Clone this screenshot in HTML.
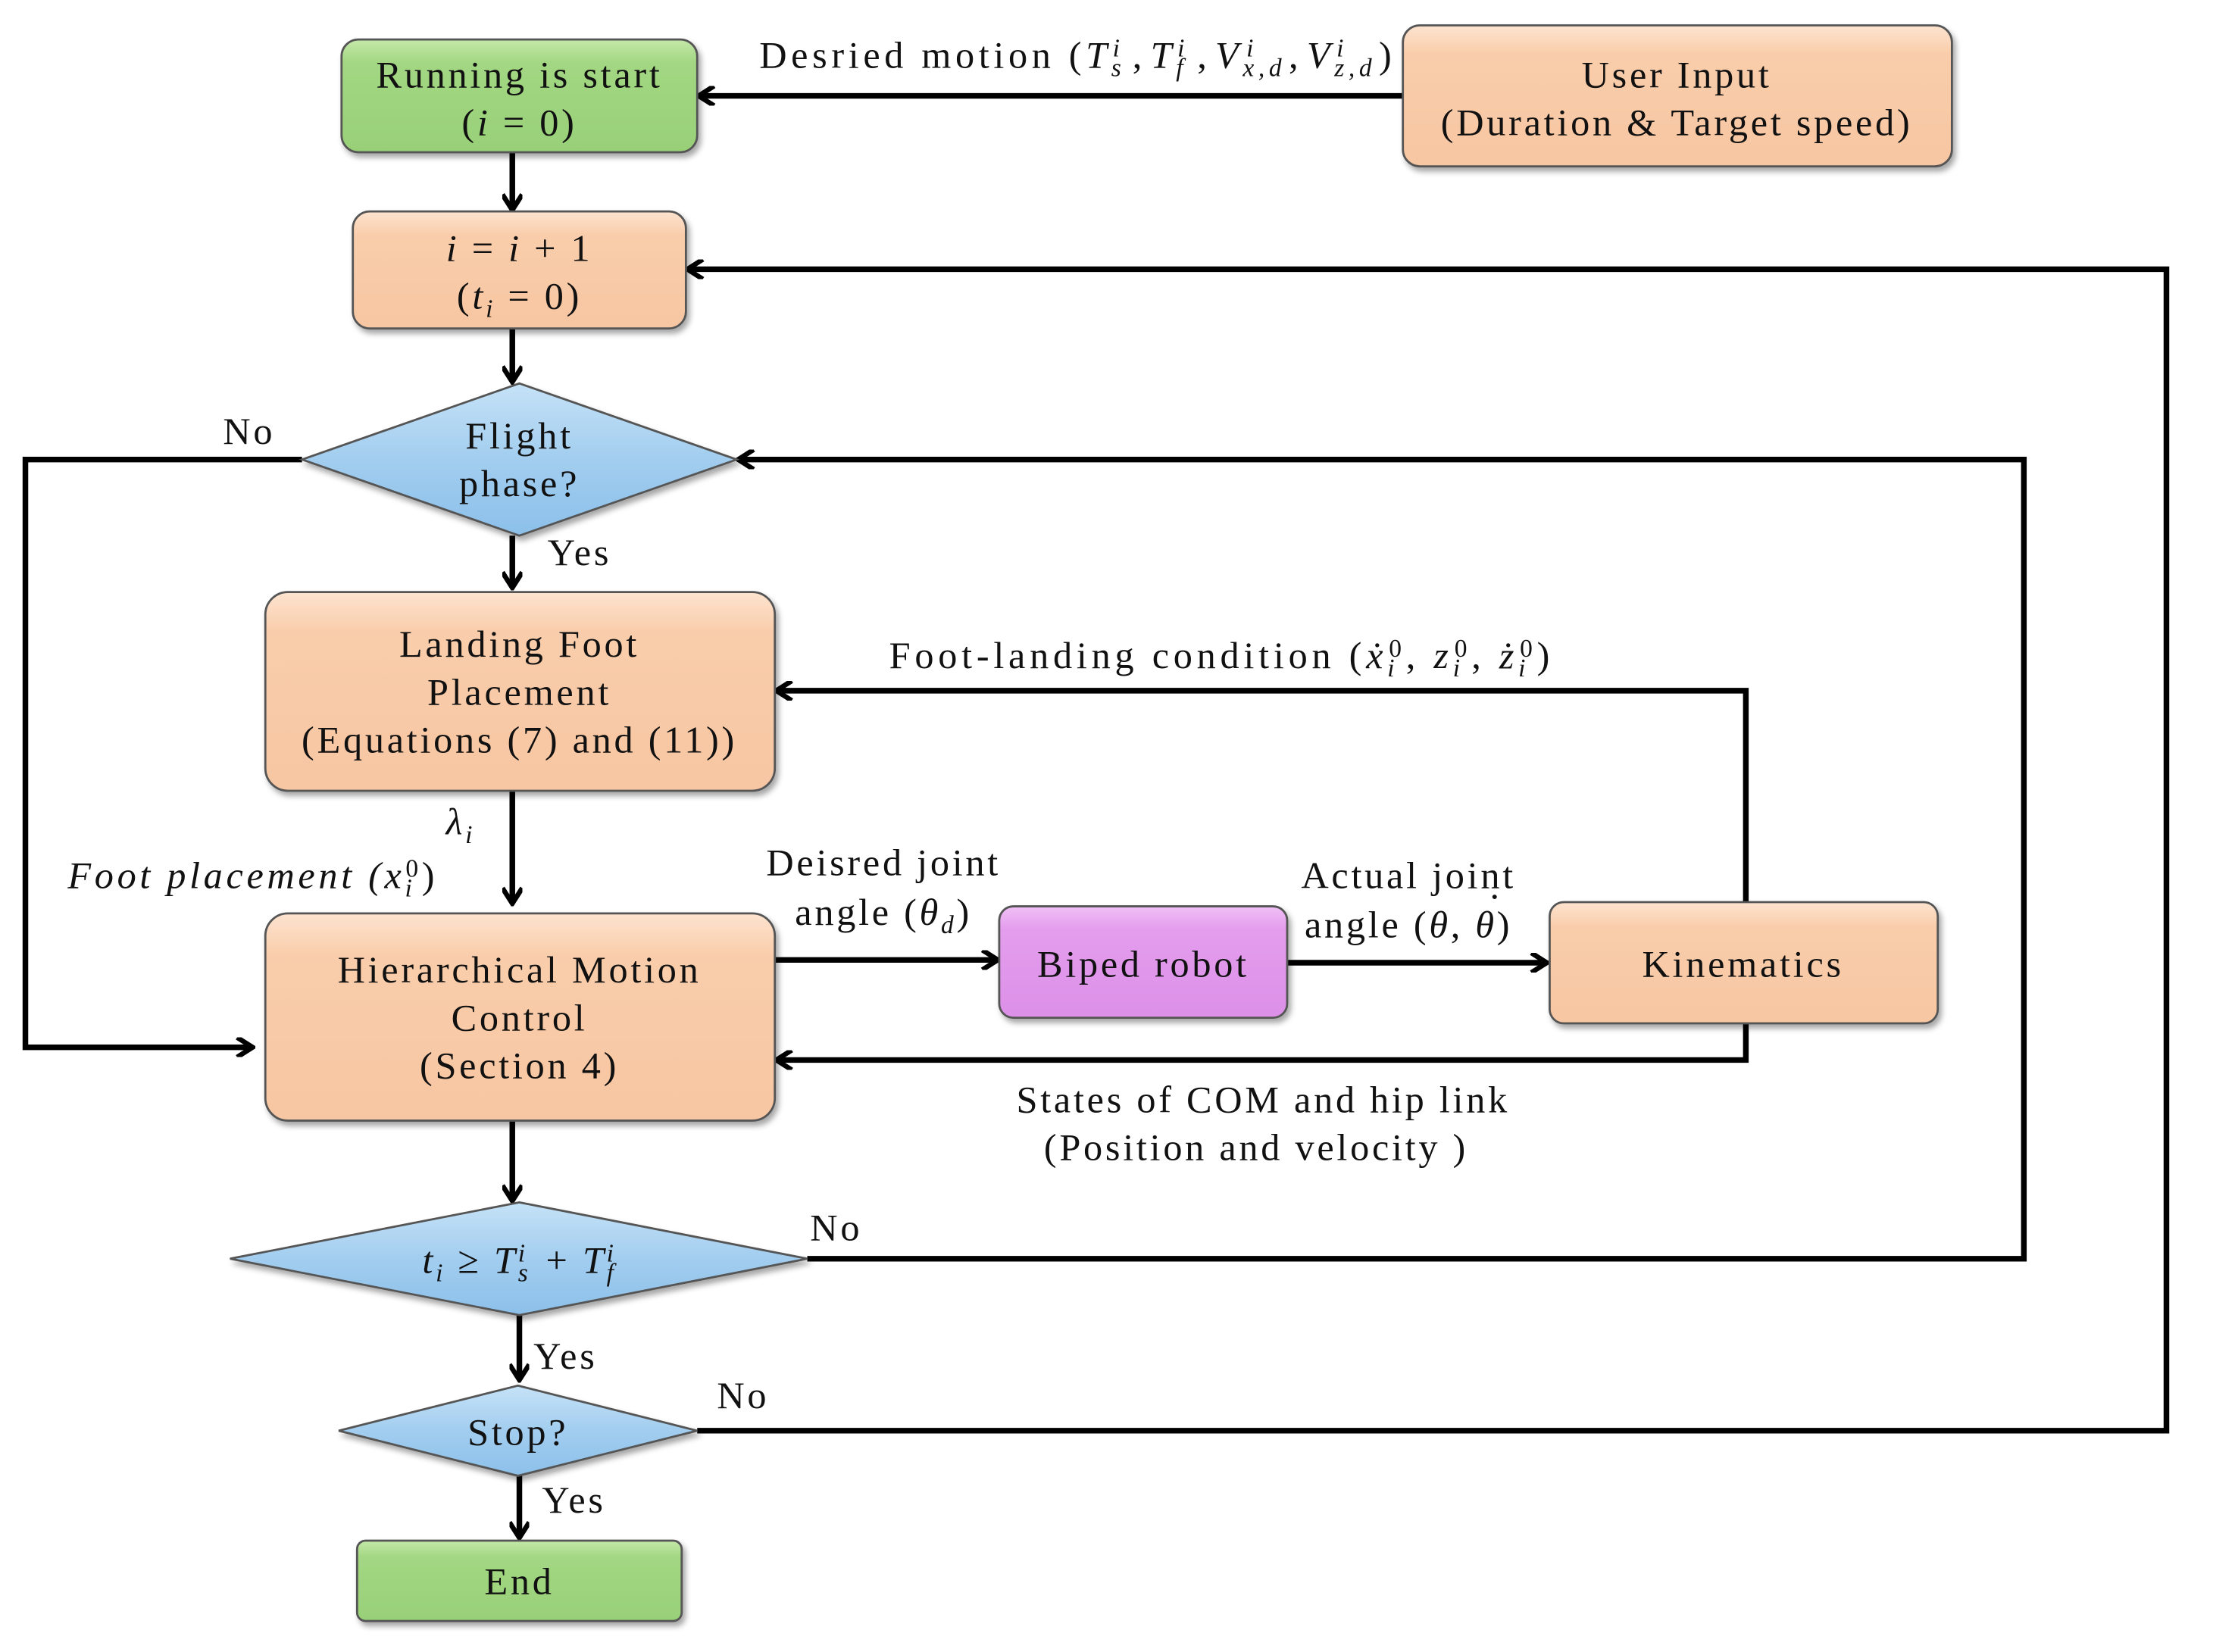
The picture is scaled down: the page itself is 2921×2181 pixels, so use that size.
<!DOCTYPE html>
<html><head><meta charset="utf-8"><style>
html,body{margin:0;padding:0;background:#fff}
svg{display:block}
text{font-family:"Liberation Serif",serif;font-size:27px;letter-spacing:2px;fill:#111}
.c{text-anchor:middle}
.i{font-style:italic}
</style></head><body>
<svg width="2921" height="2181" viewBox="0 0 1568 1172" preserveAspectRatio="none" xmlns="http://www.w3.org/2000/svg">
<defs>
<linearGradient id="gp" x1="0" y1="0" x2="0" y2="1"><stop offset="0" stop-color="#fde3cf"/><stop offset="0.2" stop-color="#f9cdab"/><stop offset="1" stop-color="#f7c6a2"/></linearGradient>
<linearGradient id="gg" x1="0" y1="0" x2="0" y2="1"><stop offset="0" stop-color="#c4e8a9"/><stop offset="0.2" stop-color="#a3d783"/><stop offset="1" stop-color="#98d078"/></linearGradient>
<linearGradient id="gb" x1="0" y1="0" x2="0" y2="1"><stop offset="0" stop-color="#c5e2f7"/><stop offset="0.5" stop-color="#a2cdef"/><stop offset="1" stop-color="#8cc0ea"/></linearGradient>
<linearGradient id="gv" x1="0" y1="0" x2="0" y2="1"><stop offset="0" stop-color="#f0c0f6"/><stop offset="0.2" stop-color="#e49ded"/><stop offset="1" stop-color="#dc90e8"/></linearGradient>
<marker id="a" markerWidth="14" markerHeight="14" refX="11" refY="7" orient="auto" markerUnits="userSpaceOnUse"><path d="M1,0 L12,7 L1,14" fill="none" stroke="#000" stroke-width="3.5"/></marker>
<filter id="s" x="-10%" y="-10%" width="120%" height="130%"><feDropShadow dx="2" dy="3" stdDeviation="2" flood-color="#000" flood-opacity="0.35"/></filter>
</defs>
<g fill="none" stroke="#000" stroke-width="4">
<line x1="994" y1="68" x2="496" y2="68" marker-end="url(#a)"/>
<line x1="363" y1="108" x2="363" y2="148" marker-end="url(#a)"/>
<line x1="363" y1="233" x2="363" y2="270" marker-end="url(#a)"/>
<polyline points="214,326 18,326 18,743 178,743" marker-end="url(#a)"/>
<polyline points="572,893 1434,893 1434,326 524,326" marker-end="url(#a)"/>
<polyline points="494,1015 1535,1015 1535,191 488,191" marker-end="url(#a)"/>
<line x1="363" y1="380" x2="363" y2="416" marker-end="url(#a)"/>
<polyline points="1237,640 1237,490 551,490" marker-end="url(#a)"/>
<line x1="363" y1="561" x2="363" y2="640" marker-end="url(#a)"/>
<line x1="549" y1="681" x2="706" y2="681" marker-end="url(#a)"/>
<line x1="912" y1="683" x2="1095" y2="683" marker-end="url(#a)"/>
<polyline points="1237,726 1237,752 551,752" marker-end="url(#a)"/>
<line x1="363" y1="795" x2="363" y2="851" marker-end="url(#a)"/>
<line x1="368" y1="933" x2="368" y2="978" marker-end="url(#a)"/>
<line x1="368" y1="1047" x2="368" y2="1090" marker-end="url(#a)"/>
</g>
<g stroke="#555" stroke-width="1.5" filter="url(#s)">
<rect x="242" y="28" width="252" height="80" rx="12" fill="url(#gg)"/>
<rect x="994" y="18" width="389" height="100" rx="12" fill="url(#gp)"/>
<rect x="250" y="150" width="236" height="83" rx="12" fill="url(#gp)"/>
<polygon points="214,326 368,272 522,326 368,380" fill="url(#gb)"/>
<rect x="188" y="420" width="361" height="141" rx="16" fill="url(#gp)"/>
<rect x="188" y="648" width="361" height="147" rx="16" fill="url(#gp)"/>
<rect x="708" y="643" width="204" height="79" rx="10" fill="url(#gv)"/>
<rect x="1098" y="640" width="275" height="86" rx="10" fill="url(#gp)"/>
<polygon points="163,893 368,853 572,893 368,933" fill="url(#gb)"/>
<polygon points="240,1015 367,983 494,1015 367,1047" fill="url(#gb)"/>
<rect x="253" y="1093" width="230" height="57" rx="6" fill="url(#gg)"/>
</g>
<text x="368" y="62" class="c">Running is start</text>
<text x="368" y="96" class="c">(<tspan class="i">i</tspan> = 0)</text>
<text x="1188" y="62" class="c">User Input</text>
<text x="1188" y="96" class="c">(Duration &amp; Target speed)</text>
<text x="538" y="48" textLength="450" lengthAdjust="spacing">Desried motion (<tspan class="i">T</tspan><tspan class="i" font-size="18" dy="6">s</tspan><tspan class="i" font-size="18" dx="-9" dy="-14">i</tspan><tspan dx="6" dy="8">,</tspan><tspan class="i" dx="3">T</tspan><tspan class="i" font-size="18" dy="6">f</tspan><tspan class="i" font-size="18" dx="-7" dy="-14">i</tspan><tspan dx="6" dy="8">,</tspan><tspan class="i" dx="3">V</tspan><tspan class="i" font-size="18" dy="6">x,d</tspan><tspan class="i" font-size="18" dx="-28" dy="-14">i</tspan><tspan dx="22" dy="8">,</tspan><tspan class="i" dx="3">V</tspan><tspan class="i" font-size="18" dy="6">z,d</tspan><tspan class="i" font-size="18" dx="-28" dy="-14">i</tspan><tspan dx="22" dy="8">)</tspan></text>
<text x="368" y="185" class="c"><tspan class="i">i</tspan> = <tspan class="i">i</tspan> + 1</text>
<text x="368" y="219" class="c">(<tspan class="i">t</tspan><tspan class="i" font-size="18" dy="6">i</tspan><tspan dy="-6"> = 0)</tspan></text>
<text x="368" y="318" class="c">Flight</text>
<text x="368" y="352" class="c">phase?</text>
<text x="158" y="315">No</text>
<text x="388" y="401">Yes</text>
<text x="368" y="466" class="c">Landing Foot</text>
<text x="368" y="500" class="c">Placement</text>
<text x="368" y="534" class="c">(Equations (7) and (11))</text>
<text x="630" y="474" textLength="470" lengthAdjust="spacing">Foot-landing condition (<tspan class="i">ẋ</tspan><tspan class="i" font-size="18" dy="6">i</tspan><tspan font-size="18" dx="-7" dy="-14">0</tspan><tspan dy="8">, </tspan><tspan class="i">z</tspan><tspan class="i" font-size="18" dy="6">i</tspan><tspan font-size="18" dx="-7" dy="-14">0</tspan><tspan dy="8">, </tspan><tspan class="i">ż</tspan><tspan class="i" font-size="18" dy="6">i</tspan><tspan font-size="18" dx="-7" dy="-14">0</tspan><tspan dy="8">)</tspan></text>
<text x="316" y="592" class="i">λ<tspan font-size="18" dy="6">i</tspan></text>
<text x="48" y="630" class="i" style="letter-spacing:2.5px">Foot placement (x<tspan font-size="18" dy="6">i</tspan><tspan font-size="18" dx="-7" dy="-14" font-style="normal">0</tspan><tspan dy="8" font-style="normal">)</tspan></text>
<text x="368" y="697" class="c">Hierarchical Motion</text>
<text x="368" y="731" class="c">Control</text>
<text x="368" y="765" class="c">(Section 4)</text>
<text x="626" y="621" class="c">Deisred joint</text>
<text x="626" y="656" class="c">angle (<tspan class="i">θ</tspan><tspan class="i" font-size="18" dy="6">d</tspan><tspan dy="-6">)</tspan></text>
<text x="810" y="693" class="c">Biped robot</text>
<text x="998" y="630" class="c">Actual joint</text>
<text x="998" y="665" class="c">angle (<tspan class="i">θ</tspan>, <tspan class="i">θ</tspan>)</text>
<text x="1060" y="645" class="c" font-size="24">·</text>
<text x="1235" y="693" class="c">Kinematics</text>
<text x="895" y="789" class="c">States of COM and hip link</text>
<text x="890" y="823" class="c">(Position and velocity )</text>
<text x="368" y="903" class="c"><tspan class="i">t</tspan><tspan class="i" font-size="18" dy="6">i</tspan><tspan dy="-6"> ≥ </tspan><tspan class="i">T</tspan><tspan class="i" font-size="18" dy="6">s</tspan><tspan class="i" font-size="18" dx="-9" dy="-14">i</tspan><tspan dx="4" dy="8"> + </tspan><tspan class="i">T</tspan><tspan class="i" font-size="18" dy="6">f</tspan><tspan class="i" font-size="18" dx="-7" dy="-14">i</tspan></text>
<text x="574" y="880">No</text>
<text x="378" y="971">Yes</text>
<text x="367" y="1025" class="c">Stop?</text>
<text x="508" y="999">No</text>
<text x="384" y="1073">Yes</text>
<text x="368" y="1131" class="c">End</text>
</svg>
</body></html>
